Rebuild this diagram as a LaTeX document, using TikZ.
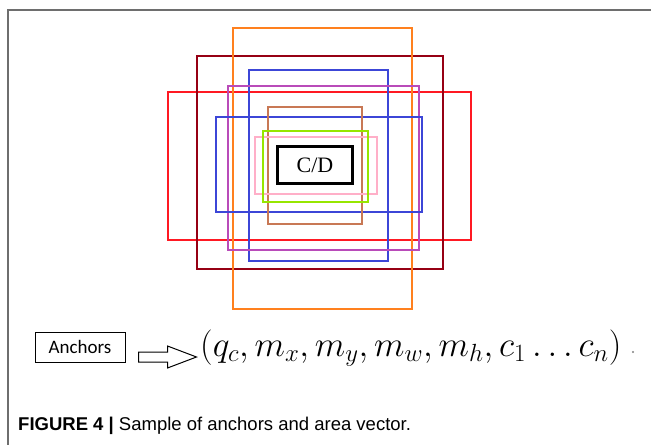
\RequirePackage{fix-cm}
\documentclass[tikz,border=0pt]{standalone}
\usepackage{fontspec}
\setmainfont{Liberation Serif}
\newfontfamily\anchorfont{Carlito}
\newfontfamily\capfont{Liberation Sans}

\definecolor{boxorange}{RGB}{255,128,30}
\definecolor{boxdarkred}{RGB}{150,0,20}
\definecolor{boxblue}{RGB}{60,70,215}
\definecolor{boxpurple}{RGB}{185,75,185}
\definecolor{boxred}{RGB}{255,25,35}
\definecolor{boxbrown}{RGB}{200,120,85}
\definecolor{boxgreen}{RGB}{150,230,0}
\definecolor{boxpink}{RGB}{255,175,200}
\definecolor{framegray}{RGB}{110,110,110}

\tikzset{
  anchorbox/.style={line width=2pt},
  blockarrow/.style={draw, line width=1pt, fill=white}
}

\begin{document}
\begin{tikzpicture}[x=1pt, y=-1pt]
  \useasboundingbox (0,0) rectangle (651,445);
  \draw[framegray, line width=1.2pt] (651,10) -- (8,10) -- (8,445);

  \draw[anchorbox, boxred] (168,92) rectangle (471,240);
  \draw[anchorbox, boxdarkred] (197,56) rectangle (443,269);
  \draw[anchorbox, boxorange] (233,28) rectangle (412,309);
  \draw[anchorbox, boxblue] (249,70) rectangle (388,261);
  \draw[anchorbox, boxpurple] (228,86) rectangle (419,250);
  \draw[anchorbox, boxblue] (216,117) rectangle (422,212);
  \draw[anchorbox, boxbrown] (268,107) rectangle (362,224);
  \draw[anchorbox, boxpink] (255,137) rectangle (377,194);
  \draw[anchorbox, boxgreen] (263,131) rectangle (368,202);

  \node[draw, line width=2.5pt, fill=white, minimum width=75pt, minimum height=37pt,
    inner sep=0pt, font=\fontsize{22}{24}\selectfont] (cd) at (315,165) {C/D};

  \node[draw, line width=1pt, minimum width=90pt, minimum height=30pt,
    font=\anchorfont\fontsize{19}{21}\selectfont] (anchors) at (80,347) {Anchors};
  \node[anchor=base west, inner sep=0pt, font=\fontsize{35.5}{38}\selectfont]
    (vector) at (200,356) {$(q_c, m_x, m_y, m_w, m_h, c_1 \ldots c_n)$};
  \node[circle, fill=gray, inner sep=0.8pt] (dot) at (633,352) {};

  \coordinate (tail) at ([xshift=13pt]anchors.east);
  \draw[blockarrow] ([yshift=-5pt]tail) -- ++(29,0) -- ++(0,-6) -- ++(29,11)
    -- ++(-29,11) -- ++(0,-6) -- ++(-29,0) -- cycle;

  \node[anchor=base west, inner sep=0pt, font=\capfont\fontsize{18.5}{20}\selectfont]
    (caption) at (18,430) {\textbf{FIGURE 4 |} Sample of anchors and area vector.};
\end{tikzpicture}
\end{document}
